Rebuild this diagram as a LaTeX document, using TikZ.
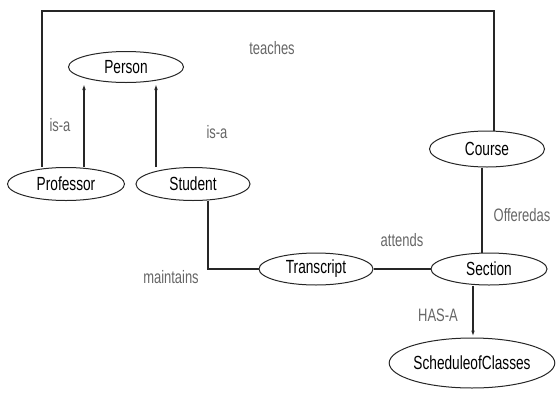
\documentclass[tikz,border=0pt]{standalone}
\usepackage{fontspec}
\setmainfont{Liberation Sans}[FakeStretch=0.72]
\usetikzlibrary{shapes.geometric,arrows.meta}
\begin{document}
\begin{tikzpicture}[x=1pt,y=-1pt,
  entity/.style={ellipse,draw=black!85,line width=1pt,inner sep=0pt,
    font=\fontsize{19}{21}\selectfont},
  link/.style={draw=black!85,line width=1.4pt},
  isa/.style={link,-{Latex[length=7pt,width=3.5pt]}},
  rel/.style={text=black!60,font=\fontsize{18}{20}\selectfont}]
\useasboundingbox (0,0) rectangle (560,394);

% classes
\node[entity,minimum width=115pt,minimum height=31pt] (person) at (126,67) {Person};
\node[entity,minimum width=117pt,minimum height=33pt] (professor) at (66,184) {Professor};
\node[entity,minimum width=114pt,minimum height=33pt] (student) at (193,184) {Student};
\node[entity,minimum width=115pt,minimum height=36pt] (course) at (487,149) {Course};
\node[entity,minimum width=114pt,minimum height=32pt] (transcript) at (316,269) {Transcript};
\node[entity,minimum width=116pt,minimum height=32pt] (section) at (489,269) {Section};
\node[entity,minimum width=154pt,minimum height=50pt] (schedule) at (472,363) {ScheduleofClasses};

% routing columns
\coordinate (profisa) at (84,0);
\coordinate (studisa) at (156,0);
\coordinate (teachL) at (42,11);
\coordinate (teachR) at (494,11);
\coordinate (offer) at (482,0);
\coordinate (maint) at (208,0);
\coordinate (hasa) at (473,0);

% inheritance
\draw[isa] (professor.north -| profisa) -- (person.south -| profisa);
\draw[isa] (student.north -| studisa) -- (person.south -| studisa);

% associations
\draw[link] (professor.north -| teachL) -- (teachL) -- (teachR) -- (course.north -| teachR);
\draw[link] (course.south -| offer) -- (section.north -| offer);
\draw[link] (student.south -| maint) |- (transcript.west);
\draw[link] (transcript.east) -- (section.west);
\draw[isa] (section.south -| hasa) -- (schedule.north -| hasa);

% relation names
\node[rel] (lteaches) at (272,48) {teaches};
\node[rel] (lisa1) at (60,125) {is-a};
\node[rel] (lisa2) at (217,132) {is-a};
\node[rel] (lmaint) at (171,277) {maintains};
\node[rel] (lattends) at (402,240) {attends};
\node[rel] (loffer) at (522,215) {Offeredas};
\node[rel] (lhasa) at (438,315) {HAS-A};
\end{tikzpicture}
\end{document}
